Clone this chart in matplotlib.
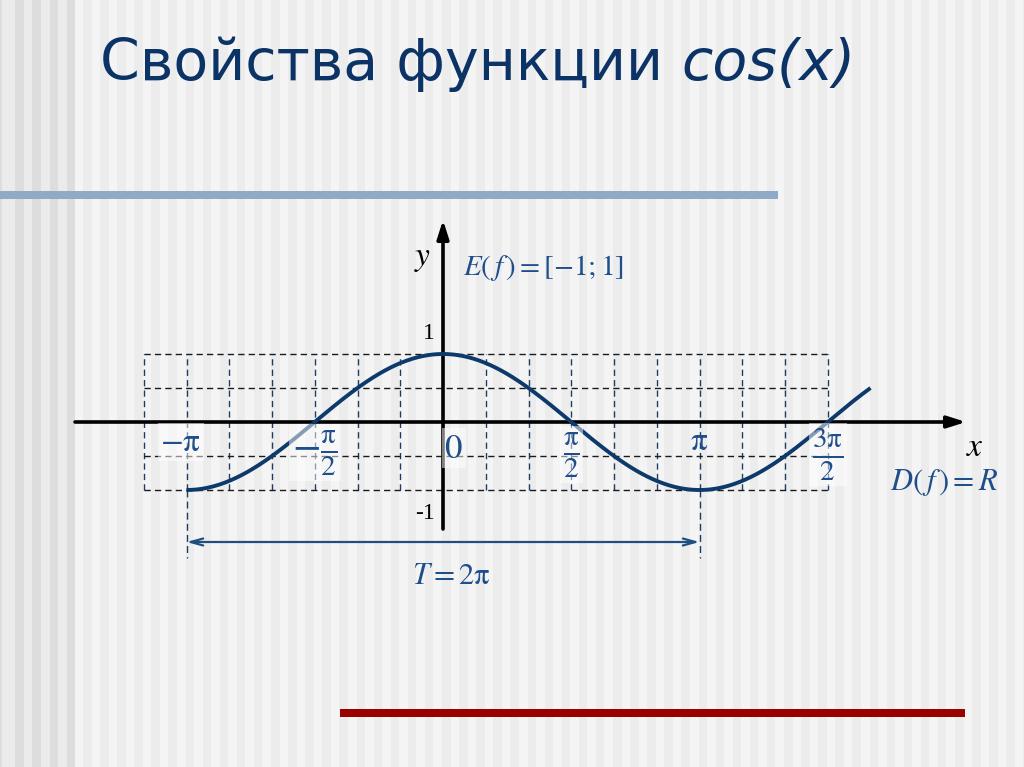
import numpy as np
import matplotlib
matplotlib.use("Agg")
import matplotlib.pyplot as plt
from matplotlib.patches import Rectangle

plt.rcParams['mathtext.fontset'] = 'stix'

# ---- data ----
title_main = "Свойства функции "
title_func = "cos(x)"
curve_start = -np.pi
curve_end = 5 * np.pi / 3
grid_x_steps = list(range(-7, 10))          # multiples of pi/6
grid_y = [-1.0, -0.5, 0.5, 1.0]
tick_x = [-np.pi, -np.pi / 2, 0.0, np.pi / 2, np.pi, 3 * np.pi / 2]
tick_labels = [r'$-\mathrm{\pi}$', r'$-\frac{\mathrm{\pi}}{2}$', r'$0$',
               r'$\frac{\mathrm{\pi}}{2}$', r'$\mathrm{\pi}$', r'$\frac{3\mathrm{\pi}}{2}$']
tick_boxed = [True, True, True, True, False, True]
tick_yoff = [-0.29, -0.45, -0.38, -0.48, -0.27, -0.48]
y_labels = ["1", "-1"]
y_label_vals = [1.0, -1.0]
period_from, period_to = -np.pi, np.pi

# ---- geometry (pixels) ----
W, H = 1024, 767
ox, oy = 443, 422
sx = 256.5 / np.pi
sy = 68.0

fig = plt.figure(figsize=(W / 100, H / 100), dpi=100)
bg = fig.add_axes([0, 0, 1, 1], zorder=0)
bg.set_xlim(0, W)
bg.set_ylim(H, 0)
bg.axis('off')

# background stripes
bg.add_patch(Rectangle((75, 0), W - 75, H, color='#f4f4f4', lw=0))
for x0 in np.arange(83, W, 17.1):
    bg.add_patch(Rectangle((x0, 0), 8.5, H, color='#ececec', lw=0))
bg.add_patch(Rectangle((0, 0), 75, H, color='#ebebeb', lw=0))
for x0 in [0, 15, 32, 49.5, 66.5]:
    bg.add_patch(Rectangle((x0, 0), 8.5 if x0 else 2, H, color='#dddddd', lw=0))

# decorative bars
bg.add_patch(Rectangle((0, 191), 778, 8, color='#8eaac6', lw=0))
bg.add_patch(Rectangle((340, 709), 625, 8, color='#990000', lw=0))

# title
t1 = bg.text(100, 80, title_main, fontsize=41, color='#0b3366',
             family='DejaVu Sans', va='baseline', ha='left')
bg.annotate(title_func, xy=(1, 0), xycoords=t1, fontsize=41, color='#0b3366',
            family='DejaVu Sans', style='italic', va='bottom', ha='left')

# ---- chart axes ----
ax = fig.add_axes([0, 0, 1, 1], zorder=1)
ax.set_facecolor('none')
ax.set_xlim(-ox / sx, (W - ox) / sx)
ax.set_ylim(-(H - oy) / sy, oy / sy)
ax.axis('off')

gx = [k * np.pi / 6 for k in grid_x_steps]
for x in gx:
    ax.plot([x, x], [-1, 1], ls=(0, (4.5, 3)), lw=1.0, color='#1d3d60', zorder=2)
for y in grid_y:
    ax.plot([gx[0], gx[-1]], [y, y], ls=(0, (4.5, 3)), lw=1.0, color='#1a1a1a', zorder=2)

# axes with arrows
xl = (75 - ox) / sx
xr = (966 - ox) / sx
ax.annotate('', xy=(xr, 0), xytext=(xl, 0),
            arrowprops=dict(arrowstyle='-|>,head_length=1.1,head_width=0.35',
                            lw=2.6, color='black', shrinkA=0, shrinkB=0), zorder=3)
yb = -(529 - oy) / sy
yt = (oy - 220) / sy
ax.annotate('', xy=(0, yt), xytext=(0, yb),
            arrowprops=dict(arrowstyle='-|>,head_length=1.1,head_width=0.35',
                            lw=2.6, color='black', shrinkA=0, shrinkB=0), zorder=3)

# curve
xs = np.linspace(curve_start, curve_end, 500)
ax.plot(xs, np.cos(xs), color='#0d3a6b', lw=2.8, zorder=4, solid_capstyle='butt')

# tick labels
for x, lab, boxed, yo in zip(tick_x, tick_labels, tick_boxed, tick_yoff):
    kw = {}
    if boxed:
        kw['bbox'] = dict(boxstyle='square,pad=0.08', fc='white', ec='none', alpha=0.5)
    if '\\frac' in lab:
        fs = 30
    elif lab == r'$0$':
        fs = 25
    else:
        fs = 24
    ax.text(x + (0.13 if x == 0 else -0.07 if x == -np.pi else 0.0), yo, lab,
            fontsize=fs, color='#1f4f8a',
            ha='center', va='center', zorder=5, **kw)

for lab, v in zip(y_labels, y_label_vals):
    ax.text(-0.1, v + (0.3 if v > 0 else -0.35), lab, fontsize=17, color='black',
            family='Liberation Serif', ha='right', va='center', zorder=5)

ax.text((966 - ox) / sx, -0.36, r'$x$', fontsize=24, color='black', ha='left', va='center')
ax.text(-0.15, (oy - 257) / sy, r'$y$', fontsize=24, color='black', ha='right', va='center')
ax.text((463 - ox) / sx, (oy - 268) / sy, r'$E(\,f\,)=[-1;1]$', fontsize=21,
        color='#1f4f8a', ha='left', va='center')
ax.text((998 - ox) / sx, -(482 - oy) / sy, r'$D(\,f\,)=R$', fontsize=22,
        color='#1f4f8a', ha='right', va='center')

# period dimension
yd = -(542 - oy) / sy
ye = -(558 - oy) / sy
for x in (period_from, period_to):
    ax.plot([x, x], [-1, ye], ls=(0, (5, 3)), lw=1.0, color='#1d3d60', zorder=2)
ax.annotate('', xy=(period_to, yd), xytext=(period_from, yd),
            arrowprops=dict(arrowstyle='<->,head_length=0.9,head_width=0.25',
                            lw=1.6, color='#1f4f80', shrinkA=0, shrinkB=0), zorder=3)
ax.text((period_from + period_to) / 2 + 0.1, -(575 - oy) / sy, r'$T=2\mathrm{\pi}$', fontsize=22,
        color='#1f4f8a', ha='center', va='center')

fig.savefig('out.png', dpi=100)
